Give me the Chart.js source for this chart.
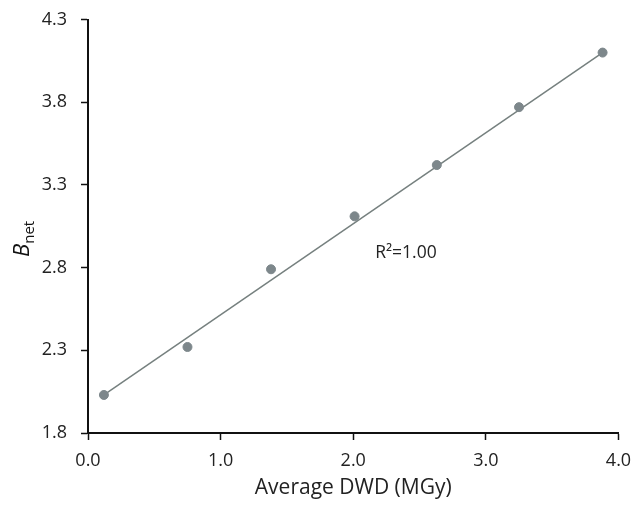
<!DOCTYPE html>
<html>
<head>
<meta charset="utf-8">
<script src="https://cdn.jsdelivr.net/npm/chart.js@4.4.1/dist/chart.umd.min.js"></script>
<style>
  html, body { margin: 0; padding: 0; background: #fff; }
  #wrap { width: 640px; height: 506px; position: relative; }
</style>
</head>
<body>
<div id="wrap"><canvas id="chart"></canvas></div>
<script>
// measured points (Average DWD, B_net)
const doseX = [0.12, 0.75, 1.38, 2.01, 2.63, 3.25, 3.88];
const bnetY = [2.03, 2.32, 2.79, 3.11, 3.42, 3.77, 4.10];

// fitted line end points
const fitX = [0.12, 3.88];
const fitY = [2.03, 4.10];

const xTicks = [0, 1, 2, 3, 4];
const yTicks = [1.8, 2.3, 2.8, 3.3, 3.8, 4.3];

const fontFam = "'Open Sans', 'Noto Sans', sans-serif";
const grey = "#7d878b";

// y title with italic B and subscript "net", plus the R² note
const extraText = {
  id: "extraText",
  afterDraw(chart) {
    const ctx = chart.ctx;
    ctx.save();
    ctx.fillStyle = "#111";
    ctx.translate(29, 257);
    ctx.rotate(-Math.PI / 2);
    ctx.textBaseline = "alphabetic";
    ctx.textAlign = "left";
    ctx.font = "italic 22px " + fontFam;
    ctx.fillText("B", 0, 0);
    const w = ctx.measureText("B").width;
    ctx.font = "15px " + fontFam;
    ctx.fillText("net", w, 5);
    ctx.restore();

    const xs = chart.scales.x, ys = chart.scales.y;
    ctx.save();
    ctx.fillStyle = "#222";
    ctx.font = "17.5px " + fontFam;
    ctx.textAlign = "left";
    ctx.textBaseline = "middle";
    ctx.fillText("R\u00b2=1.00", xs.getPixelForValue(2.165), ys.getPixelForValue(2.89));
    ctx.restore();
  }
};

new Chart(document.getElementById("chart"), {
  type: "scatter",
  data: {
    datasets: [
      {
        label: "data",
        data: doseX.map((x, i) => ({ x, y: bnetY[i] })),
        backgroundColor: grey,
        borderColor: grey,
        pointRadius: 4.5,
        pointHoverRadius: 4.5,
        order: 1
      },
      {
        label: "fit",
        type: "line",
        data: fitX.map((x, i) => ({ x, y: fitY[i] })),
        borderColor: "#76807f",
        borderWidth: 1.5,
        pointRadius: 0,
        fill: false,
        order: 2
      }
    ]
  },
  options: {
    responsive: true,
    maintainAspectRatio: false,
    animation: false,
    layout: { padding: { top: 19.5, right: 21.5, left: 0, bottom: 0 } },
    plugins: {
      legend: { display: false },
      tooltip: { enabled: false }
    },
    scales: {
      x: {
        type: "linear",
        min: 0,
        max: 4,
        afterBuildTicks: s => { s.ticks = xTicks.map(v => ({ value: v })); },
        afterFit: s => { s.height = 73; s.paddingLeft = 0; s.paddingRight = 0; },
        grid: { drawOnChartArea: false, tickLength: 7, color: "#111", tickWidth: 1.5 },
        border: { color: "#111", width: 2 },
        ticks: {
          color: "#222",
          font: { family: fontFam, size: 18 },
          padding: 10,
          maxRotation: 0,
          callback: v => Number(v).toFixed(1)
        },
        title: {
          display: true,
          text: "Average DWD (MGy)",
          color: "#222",
          font: { family: fontFam, size: 21 },
          padding: { top: 0, bottom: 5 }
        }
      },
      y: {
        type: "linear",
        min: 1.8,
        max: 4.3,
        afterBuildTicks: s => { s.ticks = yTicks.map(v => ({ value: v })); },
        afterFit: s => { s.width = 88; s.paddingTop = 0; s.paddingBottom = 0; },
        grid: { drawOnChartArea: false, tickLength: 7, color: "#111", tickWidth: 1.5 },
        border: { color: "#111", width: 2 },
        ticks: {
          color: "#222",
          font: { family: fontFam, size: 18 },
          padding: 14,
          callback: v => Number(v).toFixed(1)
        }
      }
    }
  },
  plugins: [extraText]
});
</script>
</body>
</html>
